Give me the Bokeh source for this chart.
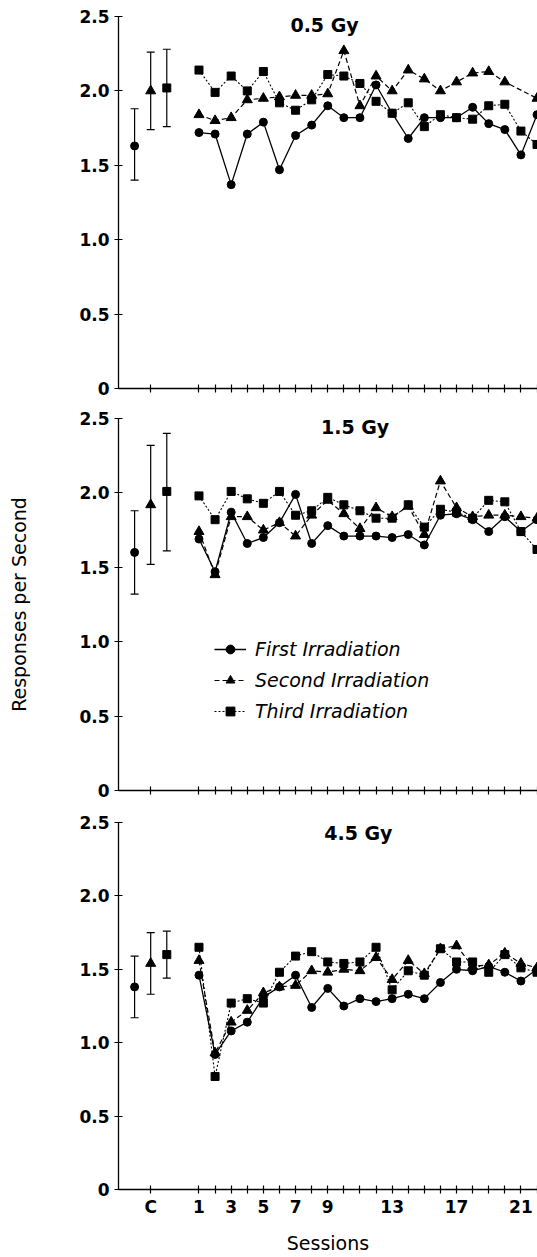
from bokeh.plotting import figure
from bokeh.layouts import column
from bokeh.models import (FixedTicker, Whisker, TeeHead, ColumnDataSource, Label,
                          Legend, LegendItem, Range1d)
from bokeh.embed import file_html
from bokeh.resources import INLINE

# ---------------- data ----------------
sessions = list(range(1, 23))
dose_titles = ["0.5 Gy", "1.5 Gy", "4.5 Gy"]
series_names = ["First Irradiation", "Second Irradiation", "Third Irradiation"]

first_05 = [1.72, 1.71, 1.37, 1.71, 1.79, 1.47, 1.70, 1.77, 1.90, 1.82, 1.82,
            2.04, 1.85, 1.68, 1.82, 1.82, 1.82, 1.89, 1.78, 1.74, 1.57, 1.84]
second_05 = [1.84, 1.80, 1.82, 1.94, 1.95, 1.96, 1.97, 1.97, 1.98, 2.27, 1.90,
             2.10, 2.00, 2.14, 2.08, 2.00, 2.06, 2.12, 2.13, 2.06, None, 1.95]
third_05 = [2.14, 1.99, 2.10, 2.00, 2.13, 1.92, 1.87, 1.94, 2.11, 2.10, 2.05,
            1.93, 1.85, 1.92, 1.76, 1.84, 1.82, 1.81, 1.90, 1.91, 1.73, 1.64]

first_15 = [1.69, 1.47, 1.87, 1.66, 1.70, 1.80, 1.99, 1.66, 1.78, 1.71, 1.71,
            1.71, 1.70, 1.72, 1.65, 1.85, 1.86, 1.82, 1.74, 1.84, 1.74, 1.82]
second_15 = [1.74, 1.45, 1.84, 1.84, 1.75, 1.80, 1.71, 1.85, 1.95, 1.86, 1.76,
             1.90, 1.84, 1.91, 1.72, 2.08, 1.90, 1.84, 1.85, 1.85, 1.84, 1.83]
third_15 = [1.98, 1.82, 2.01, 1.96, 1.93, 2.01, 1.85, 1.88, 1.97, 1.92, 1.88,
            1.83, 1.83, 1.92, 1.77, 1.89, 1.87, 1.83, 1.95, 1.94, 1.74, 1.62]

first_45 = [1.46, 0.92, 1.08, 1.14, 1.31, 1.38, 1.46, 1.24, 1.37, 1.25, 1.30,
            1.28, 1.30, 1.33, 1.30, 1.41, 1.50, 1.49, 1.52, 1.48, 1.42, 1.50]
second_45 = [1.56, 0.93, 1.14, 1.22, 1.34, 1.38, 1.39, 1.49, 1.48, 1.50, 1.49,
             1.58, 1.43, 1.56, 1.47, 1.64, 1.66, 1.52, 1.53, 1.61, 1.54, 1.51]
third_45 = [1.65, 0.77, 1.27, 1.30, 1.27, 1.48, 1.59, 1.62, 1.55, 1.54, 1.55,
            1.65, 1.36, 1.49, 1.46, 1.64, 1.55, 1.55, 1.48, 1.60, 1.51, 1.48]

# control (pre-irradiation) means with error bars: first, second, third
control_x = [-3, -2, -1]
control_mean_05 = [1.63, 2.00, 2.02]
control_low_05 = [1.40, 1.74, 1.76]
control_high_05 = [1.88, 2.26, 2.28]
control_mean_15 = [1.60, 1.92, 2.01]
control_low_15 = [1.32, 1.52, 1.61]
control_high_15 = [1.88, 2.32, 2.40]
control_mean_45 = [1.38, 1.54, 1.60]
control_low_45 = [1.17, 1.33, 1.44]
control_high_45 = [1.59, 1.75, 1.76]

x_labeled_ticks = [-2, 1, 3, 5, 7, 9, 13, 17, 21]
x_tick_labels = ["C", "1", "3", "5", "7", "9", "13", "17", "21"]
x_other_ticks = [s for s in sessions if s not in x_labeled_ticks]
y_tick_values = [0, 0.5, 1.0, 1.5, 2.0, 2.5]
y_tick_labels = ["0", "0.5", "1.0", "1.5", "2.0", "2.5"]

panels = [
    (dose_titles[0], [first_05, second_05, third_05],
     control_mean_05, control_low_05, control_high_05),
    (dose_titles[1], [first_15, second_15, third_15],
     control_mean_15, control_low_15, control_high_15),
    (dose_titles[2], [first_45, second_45, third_45],
     control_mean_45, control_low_45, control_high_45),
]

# ---------------- styles ----------------
FONT = "DejaVu Sans"
markers = ["circle", "triangle", "square"]
marker_sizes = [8, 10, 8]
dashes = ["solid", "5 3", "2 2"]
line_widths = [1.3, 1.2, 1.1]
title_pos = [(8.8, 2.44), (10.7, 2.44), (10.9, 2.43)]
heights = [403, 403, 450]
borders_top = [16, 15, 16]
borders_bottom = [15, 16, 62]

figs = []
for i, (title, series, cmean, clow, chigh) in enumerate(panels):
    p = figure(width=537, height=heights[i],
               x_range=Range1d(-4, 22.03), y_range=Range1d(0, 2.5),
               output_backend="svg", toolbar_location=None,
               min_border_left=118, min_border_right=0,
               min_border_top=borders_top[i], min_border_bottom=borders_bottom[i])
    p.outline_line_color = None
    p.xgrid.visible = False
    p.ygrid.visible = False
    p.background_fill_color = "white"
    p.border_fill_color = "white"

    for ax in (p.xaxis[0], p.yaxis[0]):
        ax.axis_line_width = 1.3
        ax.axis_line_color = "black"
        ax.major_tick_line_width = 1.2
        ax.major_tick_line_color = "black"
        ax.major_tick_in = 4
        ax.major_tick_out = 4
        ax.minor_tick_line_width = 1.2
        ax.minor_tick_line_color = "black"
        ax.minor_tick_in = 4
        ax.minor_tick_out = 4
        ax.major_label_text_font = FONT
        ax.major_label_text_font_size = "17px"
        ax.major_label_text_font_style = "bold"
        ax.major_label_text_color = "black"

    if i < 2:
        # ticks only, no labels
        p.xaxis.ticker = FixedTicker(ticks=[], minor_ticks=x_labeled_ticks + x_other_ticks)
    else:
        p.xaxis.ticker = FixedTicker(ticks=x_labeled_ticks, minor_ticks=x_other_ticks)
        p.xaxis.major_label_overrides = dict(zip(x_labeled_ticks, x_tick_labels))
    p.xaxis.major_label_standoff = 3
    p.yaxis.ticker = FixedTicker(ticks=y_tick_values, minor_ticks=[])
    p.yaxis.major_label_overrides = dict(zip(y_tick_values, y_tick_labels))
    p.yaxis.major_label_standoff = 5

    # session series
    legend_items = []
    for k, ys in enumerate(series):
        xs = [s for s, v in zip(sessions, ys) if v is not None]
        vs = [v for v in ys if v is not None]
        src = ColumnDataSource(dict(x=xs, y=vs))
        r_line = p.line("x", "y", source=src, line_color="black",
                        line_width=line_widths[k], line_dash=dashes[k])
        r_pts = p.scatter("x", "y", source=src, marker=markers[k],
                          size=marker_sizes[k], fill_color="black",
                          line_color="black")
        legend_items.append(LegendItem(label=series_names[k],
                                       renderers=[r_line, r_pts]))

    # control error bars
    for k in range(3):
        csrc = ColumnDataSource(dict(x=[control_x[k]], y=[cmean[k]],
                                     lo=[clow[k]], hi=[chigh[k]]))
        p.add_layout(Whisker(source=csrc, base="x", upper="hi", lower="lo",
                             line_width=1.2, line_color="black",
                             upper_head=TeeHead(size=8, line_width=1.2),
                             lower_head=TeeHead(size=8, line_width=1.2)))
        p.scatter("x", "y", source=csrc, marker=markers[k], size=marker_sizes[k],
                  fill_color="black", line_color="black")

    tx, ty = title_pos[i]
    p.add_layout(Label(x=tx, y=ty, text=title, text_align="center",
                       text_baseline="middle", text_font=FONT,
                       text_font_size="19px", text_font_style="bold",
                       text_color="black"))

    if i == 1:
        p.yaxis.axis_label = "Responses per Second"
        p.yaxis.axis_label_text_font = FONT
        p.yaxis.axis_label_text_font_size = "19px"
        p.yaxis.axis_label_text_font_style = "normal"
        p.yaxis.axis_label_text_color = "black"
        p.yaxis.axis_label_standoff = 46
        legend = Legend(items=legend_items, location=(96, 68),
                        border_line_color=None, background_fill_alpha=0,
                        padding=0, margin=0, spacing=9,
                        glyph_width=32, glyph_height=22, label_height=22,
                        label_standoff=9, label_text_font=FONT,
                        label_text_font_style="italic",
                        label_text_font_size="19px",
                        label_text_color="black")
        p.add_layout(legend)
    if i == 2:
        p.xaxis.axis_label = "Sessions"
        p.xaxis.axis_label_text_font = FONT
        p.xaxis.axis_label_text_font_size = "19px"
        p.xaxis.axis_label_text_font_style = "normal"
        p.xaxis.axis_label_text_color = "black"
        p.xaxis.axis_label_standoff = 12

    figs.append(p)

layout = column(*figs, spacing=0)
open("out.html", "w").write(file_html(layout, INLINE))
